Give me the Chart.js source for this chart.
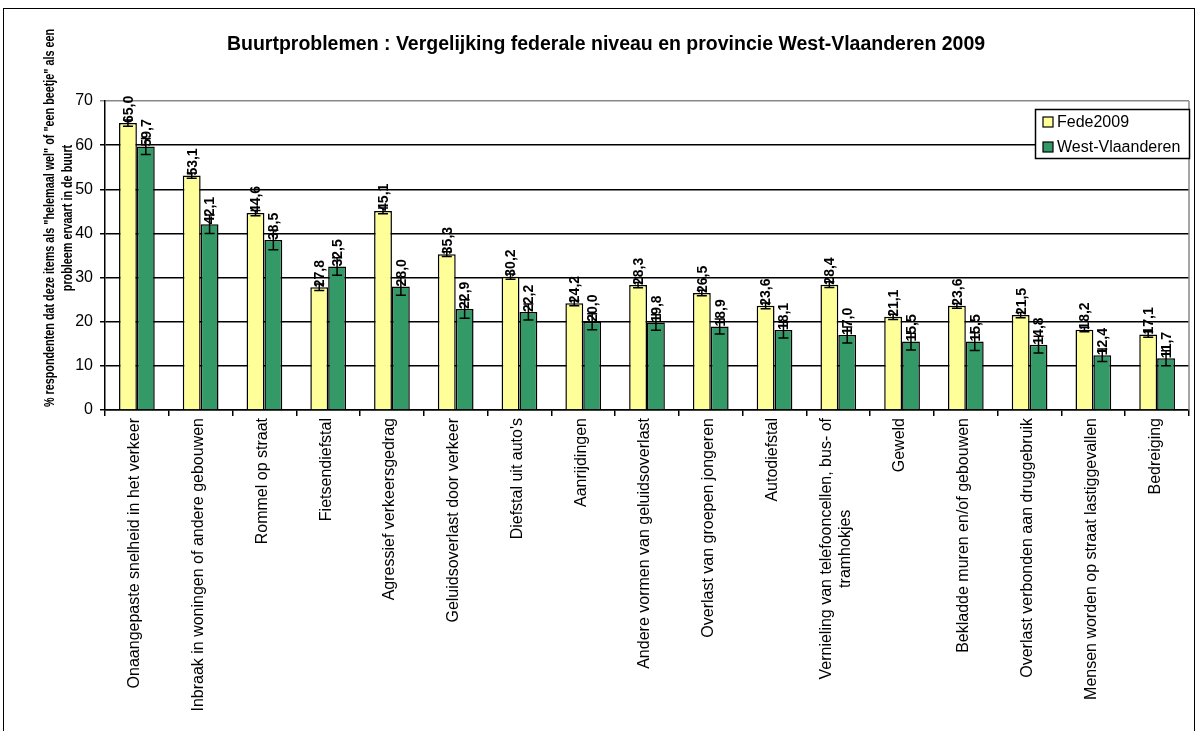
<!DOCTYPE html>
<html>
<head>
<meta charset="utf-8">
<script src="https://cdn.jsdelivr.net/npm/chart.js@4"></script>
<style>
html,body{margin:0;padding:0;background:#fff}
#wrap{width:1198px;height:731px}
</style>
</head>
<body>
<div id="wrap"><canvas id="chart" width="1198" height="731"></canvas></div>
<script>
// Data
const categories=[
  "Onaangepaste snelheid in het verkeer",
  "Inbraak in woningen of andere gebouwen",
  "Rommel op straat",
  "Fietsendiefstal",
  "Agressief verkeersgedrag",
  "Geluidsoverlast door verkeer",
  "Diefstal uit auto's",
  "Aanrijdingen",
  "Andere vormen van geluidsoverlast",
  "Overlast van groepen jongeren",
  "Autodiefstal",
  ["Vernieling van telefooncellen, bus- of","tramhokjes"],
  "Geweld",
  "Bekladde muren en/of gebouwen",
  "Overlast verbonden aan druggebruik",
  "Mensen worden op straat lastiggevallen",
  "Bedreiging"
];
const fede2009=[65.0,53.1,44.6,27.8,45.1,35.3,30.2,24.2,28.3,26.5,23.6,28.4,21.1,23.6,21.5,18.2,17.1];
const westVlaanderen=[59.7,42.1,38.5,32.5,28.0,22.9,22.2,20.0,19.8,18.9,18.1,17.0,15.5,15.5,14.8,12.4,11.7];
const fedeErr=[0.7,0.6,0.6,0.75,0.65,0.55,0.6,0.6,0.6,0.6,0.65,0.65,0.6,0.55,0.6,0.5,0.6];
const westErr=[1.8,2.1,2.2,2.0,2.0,2.1,1.8,1.8,1.75,1.7,1.8,1.8,1.9,2.0,1.9,1.4,1.7];
const seriesNames=["Fede2009","West-Vlaanderen"];
const seriesColors=["#FFFF99","#339966"];
const yMin=0, yMax=70, yStep=10;

const FONT="'Liberation Sans', Arial, sans-serif";
Chart.defaults.font.family=FONT;
Chart.defaults.color="#000";

// Tekeningen rond de grafiek: titel, as-titel, legende, labels, foutbalken
const decor={
  id:'decor',
  beforeDraw(chart){
    const ctx=chart.ctx;
    ctx.save();
    ctx.fillStyle="#fff"; ctx.fillRect(0,0,chart.width,chart.height);
    ctx.strokeStyle="#000"; ctx.lineWidth=1;
    ctx.strokeRect(3.5,8.5,1191,740);
    ctx.restore();
  },
  afterDatasetsDraw(chart){
    const ctx=chart.ctx, y=chart.scales.y;
    const vals=[fede2009,westVlaanderen], errs=[fedeErr,westErr];
    ctx.save();
    vals.forEach((arr,d)=>{
      const meta=chart.getDatasetMeta(d);
      arr.forEach((v,i)=>{
        const x=meta.data[i].x;
        const y1=y.getPixelForValue(v+errs[d][i]), y2=y.getPixelForValue(v-errs[d][i]);
        ctx.strokeStyle="#000"; ctx.lineWidth=1.5;
        ctx.beginPath();
        ctx.moveTo(x,y1); ctx.lineTo(x,y2);
        ctx.moveTo(x-5,y1); ctx.lineTo(x+5,y1);
        ctx.moveTo(x-5,y2); ctx.lineTo(x+5,y2);
        ctx.stroke();
      });
    });
    // waardelabels
    ctx.fillStyle="#000";
    ctx.font="bold 14px "+FONT;
    ctx.textAlign="left"; ctx.textBaseline="middle";
    vals.forEach((arr,d)=>{
      const meta=chart.getDatasetMeta(d);
      arr.forEach((v,i)=>{
        ctx.save();
        ctx.translate(meta.data[i].x+1,y.getPixelForValue(v));
        ctx.rotate(-Math.PI/2);
        ctx.fillText(v.toFixed(1).replace('.',','),0,0);
        ctx.restore();
      });
    });
    ctx.restore();
  },
  afterDraw(chart){
    const ctx=chart.ctx, a=chart.chartArea, x=chart.scales.x;
    ctx.save();
    // grijze rand rechts
    ctx.strokeStyle="#888"; ctx.lineWidth=1.5;
    ctx.beginPath(); ctx.moveTo(a.right,a.top); ctx.lineTo(a.right,a.bottom); ctx.stroke();
    // titel
    ctx.fillStyle="#000";
    ctx.font="bold 19.5px "+FONT;
    ctx.textAlign="center"; ctx.textBaseline="alphabetic";
    ctx.fillText("Buurtproblemen : Vergelijking federale niveau en provincie West-Vlaanderen 2009",606,50);
    // y-as titel
    ctx.font="bold 15px "+FONT;
    ctx.textBaseline="middle";
    ctx.save();
    ctx.translate(50,218); ctx.rotate(-Math.PI/2);
    ctx.scale(0.72,1);
    ctx.fillText('% respondenten dat deze items als "helemaal wel" of "een beetje" als een',0,0);
    ctx.fillText('probleem ervaart in de buurt',0,18);
    ctx.restore();
    // categorielabels
    ctx.font="16px "+FONT;
    categories.forEach((lab,i)=>{
      const cx=x.getPixelForValue(i);
      const lines=Array.isArray(lab)?lab:[lab];
      const lh=19;
      const widths=lines.map(l=>ctx.measureText(l).width);
      const maxW=Math.max(...widths);
      lines.forEach((l,k)=>{
        ctx.save();
        ctx.translate(cx-2+(k-(lines.length-1)/2)*lh,418);
        ctx.rotate(-Math.PI/2);
        ctx.textAlign="center";
        ctx.fillText(l,-maxW/2,0);
        ctx.restore();
      });
    });
    // legende
    ctx.fillStyle="#fff";
    ctx.fillRect(1035,109,154,49);
    ctx.strokeStyle="#000"; ctx.lineWidth=1.5;
    ctx.strokeRect(1035.5,109.5,154,49);
    ctx.font="16px "+FONT;
    ctx.textAlign="left";
    seriesNames.forEach((n,k)=>{
      const yy=122+k*25;
      ctx.fillStyle=seriesColors[k];
      ctx.fillRect(1043,yy-5,10,10);
      ctx.lineWidth=1.2; ctx.strokeRect(1043,yy-5,10,10);
      ctx.fillStyle="#000";
      ctx.fillText(n,1057,yy+1);
    });
    ctx.restore();
  }
};

new Chart(document.getElementById("chart"),{
  type:'bar',
  data:{
    labels:categories,
    datasets:[
      {label:seriesNames[0],data:fede2009,backgroundColor:seriesColors[0],borderColor:'#000',borderWidth:1.5},
      {label:seriesNames[1],data:westVlaanderen,backgroundColor:seriesColors[1],borderColor:'#000',borderWidth:1.5}
    ]
  },
  options:{
    responsive:false,
    animation:false,
    devicePixelRatio:1,
    datasets:{bar:{categoryPercentage:0.56,barPercentage:1.0}},
    layout:{padding:{left:0,right:9,top:101,bottom:321}},
    plugins:{legend:{display:false},title:{display:false},tooltip:{enabled:false}},
    scales:{
      x:{
        offset:true,
        grid:{display:true,drawOnChartArea:false,offset:true,tickLength:6,color:'#000',lineWidth:1.5},
        border:{color:'#000',width:1.5},
        ticks:{display:false},
        afterFit(s){s.height=0;}
      },
      y:{
        min:yMin,max:yMax,
        ticks:{stepSize:yStep,padding:7,font:{size:16},color:'#000'},
        grid:{color:c=>c.tick&&c.tick.value===yMax?'#888':'#000',lineWidth:1.5,tickLength:5},
        border:{color:'#000',width:1.5},
        afterFit(s){s.width=105;}
      }
    }
  },
  plugins:[decor]
});
</script>
</body>
</html>
